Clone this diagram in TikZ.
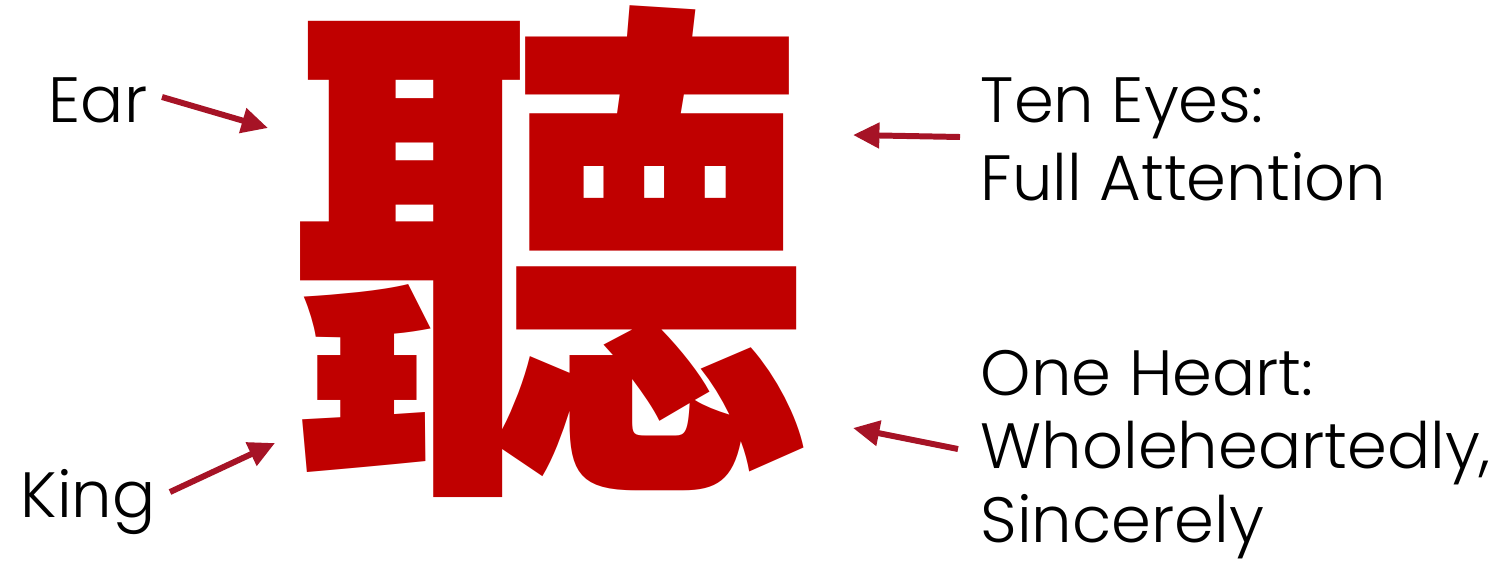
\documentclass[tikz,border=0pt]{standalone}
\usepackage{fontspec}
\IfFontExistsTF{Poppins Light}{\setmainfont{Poppins Light}}{\setmainfont{Poppins}}
\IfFontExistsTF{Noto Sans CJK TC Black}{\newfontfamily\cjk{Noto Sans CJK TC Black}}{\newfontfamily\cjk[FakeBold=3]{Noto Sans CJK TC}}
\usetikzlibrary{arrows.meta}
\definecolor{charred}{RGB}{192,0,0}
\definecolor{arrowred}{RGB}{166,19,38}
\tikzset{
  lbl/.style={inner sep=0pt, anchor=base west, align=left, font=\fontsize{18.2}{21.9}\selectfont, text=black},
  pointer/.style={draw=arrowred, line width=1.7pt, -{Triangle[length=7.5pt,width=7pt]}},
}
\begin{document}
\begin{tikzpicture}[x=0.01cm,y=-0.01cm]
\useasboundingbox (0,0) rectangle (1501,560);
\node[inner sep=0pt, anchor=base, text height=0.82em, text depth=0.08em, text=charred, font=\cjk\fontsize{148.5}{148.5}\selectfont] (char) at (549,448) {聽};
\node[lbl] (ear) at (48,122) {Ear};
\node[lbl] (king) at (20,517) {King};
\node[lbl] (eyes) at (980,200) {Ten Eyes:\\Full Attention};
\node[lbl, font=\fontsize{18.2}{20.9}\selectfont] (heart) at (980,542) {One Heart:\\Wholeheartedly,\\Sincerely};
\coordinate (earT) at (268,128);
\coordinate (kingT) at (275,443);
\coordinate (eyesT) at (853,135);
\coordinate (heartT) at (853,428);
\coordinate (earS) at (162,97);
\coordinate (kingS) at (170,492);
\coordinate (eyesS) at (960,137);
\coordinate (heartS) at (958,449);
\draw[pointer] (earS) -- (earT);
\draw[pointer] (kingS) -- (kingT);
\draw[pointer] (eyesS) -- (eyesT);
\draw[pointer] (heartS) -- (heartT);
\end{tikzpicture}
\end{document}
